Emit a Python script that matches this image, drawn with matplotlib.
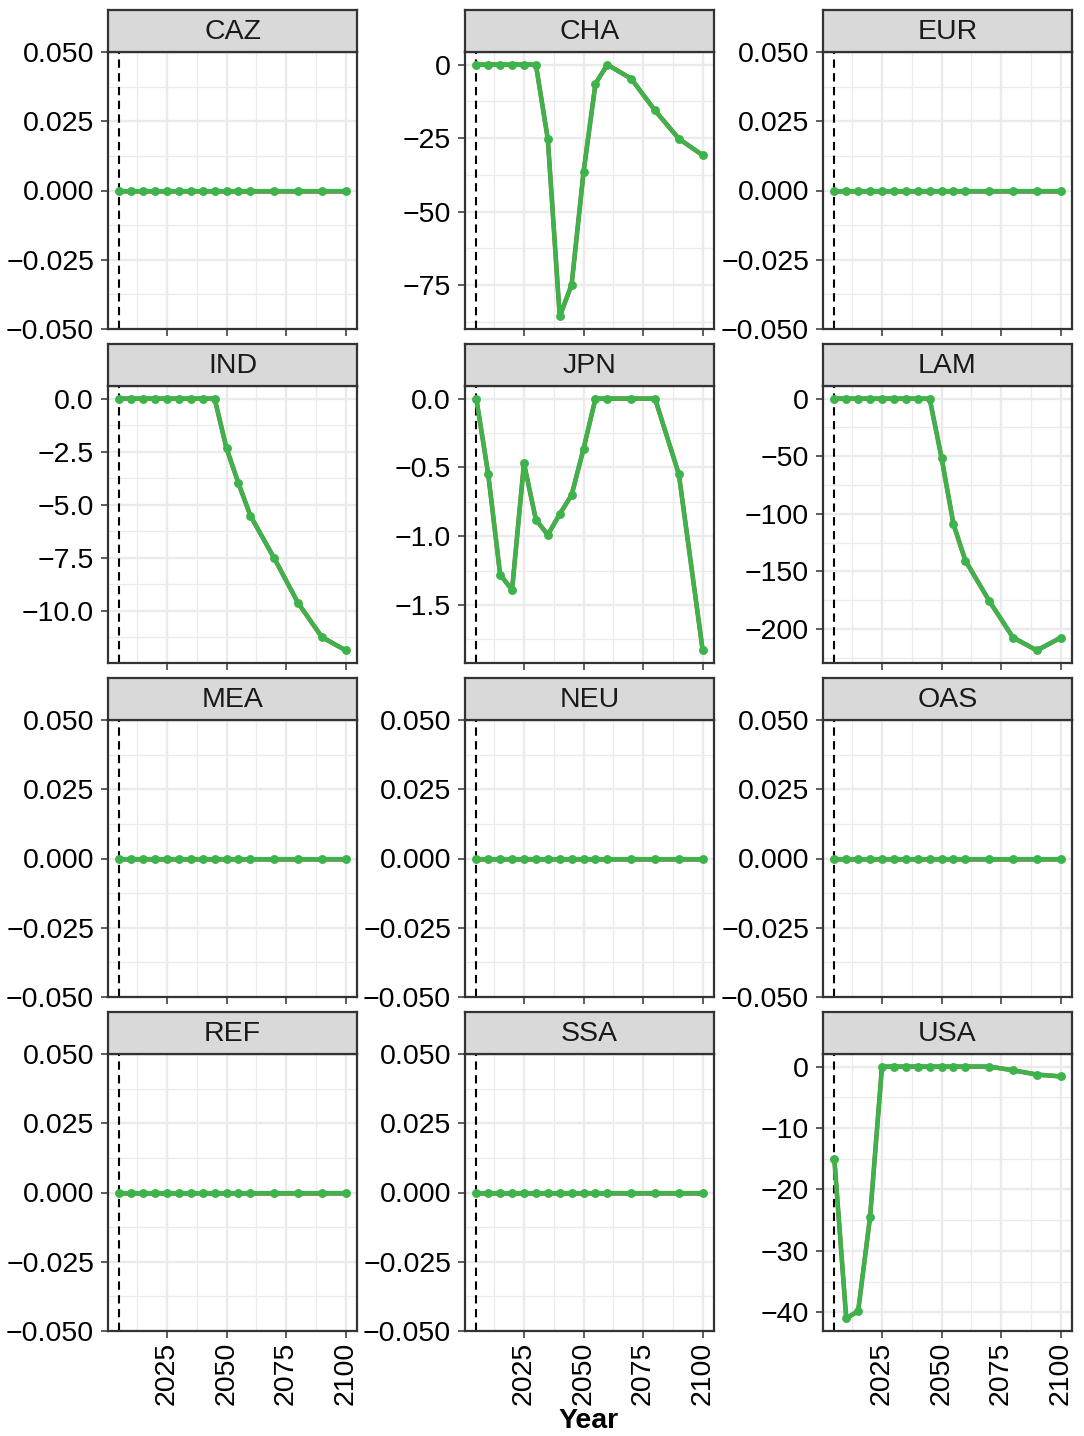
import matplotlib
matplotlib.use("Agg")
import matplotlib.pyplot as plt

plt.rcParams["font.family"] = ["Liberation Sans", "DejaVu Sans"]

# ---------------- data ----------------
years = [2005, 2010, 2015, 2020, 2025, 2030, 2035, 2040, 2045, 2050,
         2055, 2060, 2070, 2080, 2090, 2100]

regions = ["CAZ", "CHA", "EUR", "IND", "JPN", "LAM",
           "MEA", "NEU", "OAS", "REF", "SSA", "USA"]

caz = [0, 0, 0, 0, 0, 0, 0, 0, 0, 0, 0, 0, 0, 0, 0, 0]
cha = [0, 0, 0, 0, 0, 0, -25.3, -85.6, -74.8, -36.5, -6.5, 0, -4.8, -15.6, -25.2, -30.8]
eur = [0, 0, 0, 0, 0, 0, 0, 0, 0, 0, 0, 0, 0, 0, 0, 0]
ind = [0, 0, 0, 0, 0, 0, 0, 0, 0, -2.35, -3.99, -5.52, -7.52, -9.63, -11.24, -11.87]
jpn = [0, -0.55, -1.28, -1.39, -0.47, -0.88, -0.99, -0.84, -0.70, -0.365, 0, 0, 0, 0, -0.55, -1.83]
lam = [0, 0, 0, 0, 0, 0, 0, 0, 0, -51.3, -109.0, -140.5, -175.5, -207.3, -218.5, -207.5]
mea = [0, 0, 0, 0, 0, 0, 0, 0, 0, 0, 0, 0, 0, 0, 0, 0]
neu = [0, 0, 0, 0, 0, 0, 0, 0, 0, 0, 0, 0, 0, 0, 0, 0]
oas = [0, 0, 0, 0, 0, 0, 0, 0, 0, 0, 0, 0, 0, 0, 0, 0]
ref = [0, 0, 0, 0, 0, 0, 0, 0, 0, 0, 0, 0, 0, 0, 0, 0]
ssa = [0, 0, 0, 0, 0, 0, 0, 0, 0, 0, 0, 0, 0, 0, 0, 0]
usa = [-15.0, -41.0, -39.8, -24.5, 0, 0, 0, 0, 0, 0, 0, 0, 0, -0.6, -1.3, -1.6]

series = {"CAZ": caz, "CHA": cha, "EUR": eur, "IND": ind, "JPN": jpn, "LAM": lam,
          "MEA": mea, "NEU": neu, "OAS": oas, "REF": ref, "SSA": ssa, "USA": usa}

zero_ticks = [-0.05, -0.025, 0.0, 0.025, 0.05]
zero_labels = ["\u22120.050", "\u22120.025", "0.000", "0.025", "0.050"]
y_ticks = {
    "CHA": ([-75, -50, -25, 0], ["\u221275", "\u221250", "\u221225", "0"]),
    "IND": ([-10, -7.5, -5, -2.5, 0], ["\u221210.0", "\u22127.5", "\u22125.0", "\u22122.5", "0.0"]),
    "JPN": ([-1.5, -1.0, -0.5, 0], ["\u22121.5", "\u22121.0", "\u22120.5", "0.0"]),
    "LAM": ([-200, -150, -100, -50, 0], ["\u2212200", "\u2212150", "\u2212100", "\u221250", "0"]),
    "USA": ([-40, -30, -20, -10, 0], ["\u221240", "\u221230", "\u221220", "\u221210", "0"]),
}
x_ticks = [2025, 2050, 2075, 2100]
x_labels = ["2025", "2050", "2075", "2100"]
x_minor = [2012.5, 2037.5, 2062.5, 2087.5]
ref_year = 2005
xlabel = "Year"

# ---------------- layout ----------------
W, H = 1084, 1436
fig = plt.figure(figsize=(W / 100, H / 100), dpi=100)

col_left = [108, 465, 823]
panel_w = 249
row_top = [52, 386, 720, 1054]
panel_h = 277
strip_h = 42

green = "#3CB44B"
under = "#8A6E45"
border = "#333333"
grid = "#EBEBEB"
fs = 20.5

def fx(px):
    return px / W

def fy(py):
    return 1 - py / H

for i, reg in enumerate(regions):
    r, c = divmod(i, 3)
    left = col_left[c]
    top = row_top[r]
    ax = fig.add_axes([fx(left), fy(top + panel_h), panel_w / W, panel_h / H])
    vals = series[reg]

    xmin, xmax = min(years), max(years)
    xr = xmax - xmin
    ax.set_xlim(xmin - 0.05 * xr, xmax + 0.05 * xr)

    vmin, vmax = min(vals), max(vals)
    if vmax == vmin:
        ax.set_ylim(vmin - 0.05, vmin + 0.05)
        yt, yl = zero_ticks, zero_labels
    else:
        yr = vmax - vmin
        ax.set_ylim(vmin - 0.05 * yr, vmax + 0.05 * yr)
        yt, yl = y_ticks[reg]
    lo, hi = ax.get_ylim()

    # minor gridlines at midpoints
    step = yt[1] - yt[0]
    ext = [yt[0] - step] + list(yt) + [yt[-1] + step]
    yminor = [(a + b) / 2 for a, b in zip(ext[:-1], ext[1:])]
    yminor = [v for v in yminor if lo <= v <= hi]
    for v in yminor:
        ax.axhline(v, color=grid, lw=0.9, zorder=0)
    for v in x_minor:
        ax.axvline(v, color=grid, lw=0.9, zorder=0)
    for v in yt:
        ax.axhline(v, color=grid, lw=1.7, zorder=0)
    for v in x_ticks:
        ax.axvline(v, color=grid, lw=1.7, zorder=0)

    ax.axvline(ref_year, color="black", lw=1.5, ls=(0, (4, 2.6)), zorder=1)

    ax.plot(years, vals, color=under, lw=3.3, zorder=2, solid_capstyle="butt")
    ax.plot(years, vals, color=green, lw=3.0, zorder=3)
    ax.plot(years, vals, ls="none", marker="o", ms=6.4, color=green,
            markeredgewidth=0, zorder=4)

    ax.set_yticks(yt)
    ax.set_yticklabels(yl)
    ax.set_xticks(x_ticks)
    if r == 3:
        ax.set_xticklabels(x_labels, rotation=90, va="top", ha="center")
    else:
        ax.set_xticklabels([])
    ax.tick_params(axis="both", which="major", length=5, width=1.1,
                   color=border, labelsize=fs, labelcolor="black")
    ax.tick_params(axis="y", pad=5)
    ax.tick_params(axis="x", pad=3)
    for s in ax.spines.values():
        s.set_color(border)
        s.set_linewidth(1.6)
    ax.set_facecolor("white")

    # strip
    sax = fig.add_axes([fx(left), fy(top), panel_w / W, strip_h / H])
    sax.set_facecolor("#D9D9D9")
    sax.set_xticks([])
    sax.set_yticks([])
    for s in sax.spines.values():
        s.set_color(border)
        s.set_linewidth(1.6)
    sax.text(0.5, 0.47, reg, ha="center", va="center", fontsize=fs,
             color="#1A1A1A", transform=sax.transAxes)

fig.text(fx(589), fy(1421), xlabel, ha="center", va="center",
         fontsize=fs, fontweight="bold")

fig.savefig("out.png", dpi=100)
